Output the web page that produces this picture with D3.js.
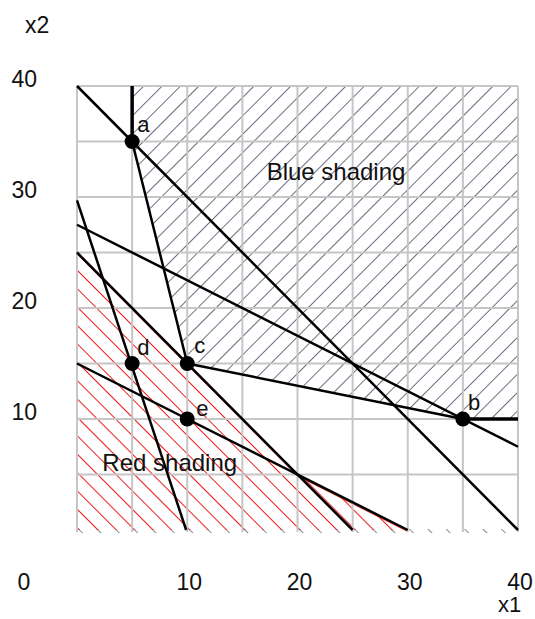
<!DOCTYPE html>
<html>
<head>
<meta charset="utf-8">
<script src="https://cdn.jsdelivr.net/npm/d3@7"></script>
<style>
  html, body { margin: 0; padding: 0; background: #fff; }
  svg text { font-family: "Liberation Sans", Arial, sans-serif; fill: #111; }
</style>
</head>
<body>
<svg id="chart" width="535" height="619"></svg>
<script>
// ---------- data ----------
const xTicks = [10, 20, 30, 40];
const yTicks = [10, 20, 30, 40];
const gridX = [0, 5, 10, 15, 20, 25, 30, 35, 40];
const gridY = [5, 10, 15, 20, 25, 30, 35, 40];

const points = [
  { name: "a", x: 5, y: 35 },
  { name: "b", x: 35, y: 10 },
  { name: "c", x: 10, y: 15 },
  { name: "d", x: 5, y: 15 },
  { name: "e", x: 10, y: 10 }
];

// constraint line segments [x1, y1, x2, y2]
const thinLines = [
  [0, 40, 40, 0],
  [5, 35, 10, 15],
  [10, 15, 35, 10],
  [0, 27.5, 40, 7.5],
  [0, 29.7, 9.9, 0],
  [0, 25, 25, 0],
  [0, 15, 30, 0]
];
const thickLines = [
  [5, 35, 5, 40],
  [35, 10, 40, 10]
];

const blueRegion = [[5, 40], [5, 35], [10, 15], [35, 10], [40, 10], [40, 40]];
const redRegion = [[0, 0], [0, 25], [20, 5], [30, 0]];
const redEdge = [[0, 25], [20, 5], [30, 0]];

const regionLabels = [
  { text: "Blue shading", x: 17.2, y: 31.5 },
  { text: "Red shading", x: 2.3, y: 5.3 }
];

// ---------- layout ----------
const svg = d3.select("#chart");
const x = d3.scaleLinear().domain([0, 40]).range([77, 518]);
const y = d3.scaleLinear().domain([0, 40]).range([530, 86]);

const labelOffsets = { a: [5, -10], b: [5, -9], c: [7, -11], d: [5, -9], e: [9, -3] };

// patterns
const defs = svg.append("defs");
function hatch(id, color, angle, spacing) {
  const p = defs.append("pattern")
    .attr("id", id)
    .attr("patternUnits", "userSpaceOnUse")
    .attr("width", spacing).attr("height", spacing)
    .attr("patternTransform", `rotate(${angle})`);
  p.append("line")
    .attr("x1", spacing / 2).attr("y1", 0)
    .attr("x2", spacing / 2).attr("y2", spacing)
    .attr("stroke", color).attr("stroke-width", 1);
}
hatch("blueHatch", "#6e6e84", 45, 13);
hatch("redHatch", "#ee1c1c", -45, 13);
hatch("grayHatch", "#8a8a8a", -45, 13);

const line = d3.line().x(d => x(d[0])).y(d => y(d[1]));

// thin hatch strip below the bottom edge
svg.append("rect")
  .attr("x", x(0)).attr("y", y(0) - 1)
  .attr("width", x(40) - x(0)).attr("height", 4)
  .attr("fill", "url(#grayHatch)");

// shaded regions
svg.append("path")
  .attr("d", line(blueRegion) + "Z")
  .attr("fill", "url(#blueHatch)");
svg.append("path")
  .attr("d", line(redRegion) + "Z")
  .attr("fill", "url(#redHatch)");
svg.append("path")
  .attr("d", line(redEdge))
  .attr("fill", "none")
  .attr("stroke", "#ee1c1c").attr("stroke-width", 1)
  .attr("transform", "translate(0,1.5)");

// grid
const grid = svg.append("g").attr("stroke", "#c6c6c6").attr("stroke-width", 2);
grid.selectAll("line.v").data(gridX).join("line")
  .attr("class", "v")
  .attr("x1", d => x(d)).attr("x2", d => x(d))
  .attr("y1", y(40)).attr("y2", y(0) + 2);
grid.selectAll("line.h").data(gridY).join("line")
  .attr("class", "h")
  .attr("x1", x(0)).attr("x2", x(40))
  .attr("y1", d => y(d)).attr("y2", d => y(d));

// constraint lines
svg.append("g").selectAll("line").data(thinLines).join("line")
  .attr("x1", d => x(d[0])).attr("y1", d => y(d[1]))
  .attr("x2", d => x(d[2])).attr("y2", d => y(d[3]))
  .attr("stroke", "#000").attr("stroke-width", 2.5);
svg.append("g").selectAll("line").data(thickLines).join("line")
  .attr("x1", d => x(d[0])).attr("y1", d => y(d[1]))
  .attr("x2", d => x(d[2])).attr("y2", d => y(d[3]))
  .attr("stroke", "#000").attr("stroke-width", 3.5);

// points
svg.append("g").selectAll("circle").data(points).join("circle")
  .attr("cx", d => x(d.x)).attr("cy", d => y(d.y)).attr("r", 7.5)
  .attr("fill", "#000");
svg.append("g").selectAll("text").data(points).join("text")
  .attr("x", d => x(d.x) + labelOffsets[d.name][0])
  .attr("y", d => y(d.y) + labelOffsets[d.name][1])
  .attr("font-size", 22)
  .text(d => d.name);

// region labels
svg.append("g").selectAll("text").data(regionLabels).join("text")
  .attr("x", d => x(d.x)).attr("y", d => y(d.y))
  .attr("font-size", 24)
  .text(d => d.text);

// axis tick labels
svg.append("g").selectAll("text").data(yTicks).join("text")
  .attr("x", 37).attr("y", d => y(d) + 1)
  .attr("text-anchor", "end")
  .attr("font-size", 23)
  .text(d => d);
svg.append("g").selectAll("text").data(xTicks).join("text")
  .attr("x", d => x(d) + 2).attr("y", 590)
  .attr("text-anchor", "middle")
  .attr("font-size", 23)
  .text(d => d);
svg.append("text").attr("x", 24).attr("y", 590)
  .attr("text-anchor", "middle").attr("font-size", 23).text("0");

// axis titles
svg.append("text").attr("x", 25).attr("y", 33).attr("font-size", 23).text("x2");
svg.append("text").attr("x", 498).attr("y", 612).attr("font-size", 22).text("x1");
</script>
</body>
</html>
